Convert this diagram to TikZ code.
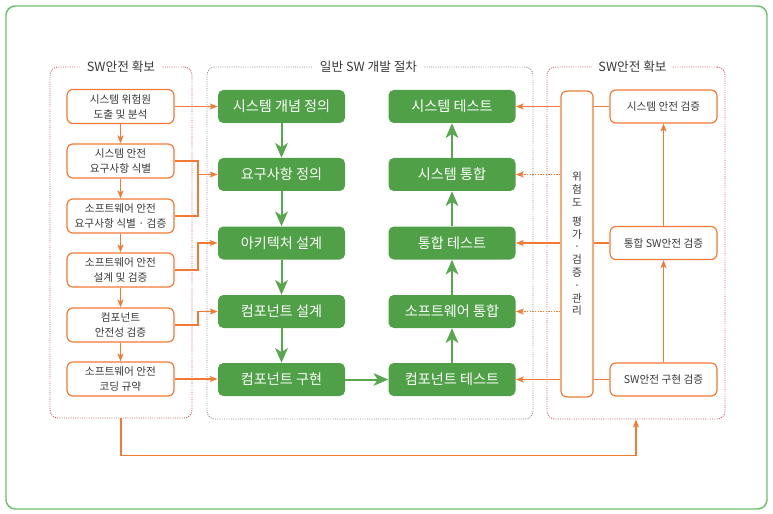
\documentclass[tikz,border=0pt]{standalone}
\usepackage{fontspec}
\setmainfont{Noto Sans CJK KR}
\usetikzlibrary{arrows.meta}
\definecolor{boxgreen}{HTML}{4FA046}
\definecolor{arrowgreen}{HTML}{58A64E}
\definecolor{framegreen}{HTML}{6CC06C}
\definecolor{safeorange}{HTML}{F27A35}
\definecolor{safered}{HTML}{C8585A}
\definecolor{textgray}{HTML}{3A3A3A}
\tikzset{
	stepbox/.style={fill=boxgreen, rounded corners=4pt, minimum width=95.25pt, minimum height=24.75pt, text=white, inner sep=0pt, font=\fontsize{10.6}{12}\selectfont},
	safebox/.style={draw=safeorange, line width=0.9pt, fill=white, rounded corners=4.5pt, minimum width=80.25pt, minimum height=25.5pt, inner sep=0pt, text=textgray, align=center, font=\fontsize{8}{11.3}\selectfont},
	safegroup/.style={draw=safered, densely dotted, line width=0.7pt, rounded corners=6pt},
	stepgroup/.style={draw=black!45, densely dotted, line width=0.7pt, rounded corners=6pt},
	grouplabel/.style={fill=white, inner xsep=5pt, inner ysep=1pt, text=textgray, font=\fontsize{9.5}{11}\selectfont},
	greenflow/.style={draw=arrowgreen, line width=1.5pt, -{Stealth[length=11pt, width=9.5pt, inset=3pt]}},
	safeflow/.style={draw=safeorange, line width=1pt, -{Stealth[length=6pt, width=4.5pt, inset=1.5pt]}},
	safeline/.style={draw=safeorange, line width=1pt},
	safedots/.style={draw=safeorange, densely dotted, line width=1pt, -{Stealth[length=6pt, width=4.5pt, inset=1.5pt]}}
}
\newcommand{\vertlabel}[1]{\parbox{12pt}{\centering\fontsize{8}{9.6}\selectfont\lineskiplimit=-100pt\relax #1}}
\begin{document}
\begin{tikzpicture}[x=0.75pt, y=-0.75pt]
			%%%%% FRAME %%%%%
			\useasboundingbox (0, 0) rectangle (773, 513);
			\draw[draw=framegreen, line width=1.1pt, rounded corners=7pt] (6, 6) rectangle (767, 509);
			
			\node[safegroup, minimum width=106.5pt, minimum height=263.25pt] (leftGroup) at (121, 242.5) {};
			\node[stepgroup, minimum width=244.5pt, minimum height=264pt] (midGroup) at (370, 243) {};
			\node[safegroup, minimum width=133.5pt, minimum height=264pt] (rightGroup) at (636, 243) {};
			
			\node[grouplabel] (leftLabel) at (leftGroup.north) {SW안전 확보};
			\node[grouplabel] (midLabel) at (368.5, 67) {일반 SW 개발 절차};
			\node[grouplabel] (rightLabel) at (632.5, 67) {SW안전 확보};
			
			%%%%% LEFT : SW SAFETY %%%%%
			\node[safebox] (sysHazard) at (120.5, 106.5) {시스템 위험원\\도출 및 분석};
			\node[safebox] (sysReq) at (120.5, 161) {시스템 안전\\요구사항 식별};
			\node[safebox] (swReq) at (120.5, 216) {소프트웨어 안전\\요구사항 식별 · 검증};
			\node[safebox] (swDesign) at (120.5, 270) {소프트웨어 안전\\설계 및 검증};
			\node[safebox] (compSafety) at (120.5, 325) {컴포넌트\\안전성 검증};
			\node[safebox] (swCoding) at (120.5, 379) {소프트웨어 안전\\코딩 규약};
			
			\draw[safeflow] (sysHazard) -- (sysReq);
			\draw[safeflow] (sysReq) -- (swReq);
			\draw[safeflow] (swReq) -- (swDesign);
			\draw[safeflow] (swDesign) -- (compSafety);
			\draw[safeflow] (compSafety) -- (swCoding);
			
			%%%%% MIDDLE : DEVELOPMENT %%%%%
			\node[stepbox] (gConcept) at (281.5, 106.5) {시스템 개념 정의};
			\node[stepbox] (gReq) at (281.5, 174.5) {요구사항 정의};
			\node[stepbox] (gArch) at (281.5, 243) {아키텍처 설계};
			\node[stepbox] (gCompDesign) at (281.5, 311.5) {컴포넌트 설계};
			\node[stepbox] (gCompImpl) at (281.5, 379.5) {컴포넌트 구현};
			
			\node[stepbox] (gSysTest) at (452, 106.5) {시스템 테스트};
			\node[stepbox] (gSysInteg) at (452, 174.5) {시스템 통합};
			\node[stepbox] (gIntegTest) at (452, 243) {통합 테스트};
			\node[stepbox] (gSwInteg) at (452, 311.5) {소프트웨어 통합};
			\node[stepbox] (gCompTest) at (452, 379.5) {컴포넌트 테스트};
			
			\draw[greenflow] (gConcept) -- (gReq);
			\draw[greenflow] (gReq) -- (gArch);
			\draw[greenflow] (gArch) -- (gCompDesign);
			\draw[greenflow] (gCompDesign) -- (gCompImpl);
			\draw[greenflow] (gCompImpl) -- (gCompTest);
			\draw[greenflow] (gCompTest) -- (gSwInteg);
			\draw[greenflow] (gSwInteg) -- (gIntegTest);
			\draw[greenflow] (gIntegTest) -- (gSysInteg);
			\draw[greenflow] (gSysInteg) -- (gSysTest);
			
			%%%%% LEFT -> MIDDLE %%%%%
			\coordinate (mergeReq) at (198, 174.5);
			\coordinate (mergeArch) at (198, 243);
			\coordinate (mergeComp) at (198, 311.5);
			\draw[safeflow] (sysHazard) -- (gConcept);
			\draw[safeline] (swReq.east) -| (mergeReq);
			\draw[safeflow] (sysReq.east) -| (mergeReq) -- (gReq.west);
			\draw[safeflow] (swDesign.east) -| (mergeArch) -- (gArch.west);
			\draw[safeflow] (compSafety.east) -| (mergeComp) -- (gCompDesign.west);
			\draw[safeflow] (swCoding.east) -- (gCompImpl.west |- swCoding.east);
			
			%%%%% RIGHT : SW SAFETY %%%%%
			\node[safebox, minimum width=24pt, minimum height=229.5pt] (riskBox) at (577, 244) {};
			\node[text=textgray, inner sep=0pt] (riskText) at (riskBox.center) {\vertlabel{위\par 험\par 도\par\vspace{4.5pt}평\par 가\par ·\par 검\par 증\par ·\par 관\par 리}};
			
			\node[safebox, minimum height=24.75pt] (vSys) at (663.5, 106.5) {시스템 안전 검증};
			\node[safebox, minimum height=24.75pt] (vInteg) at (663.5, 243) {통합 SW안전 검증};
			\node[safebox, minimum height=24.75pt] (vImpl) at (663.5, 379.5) {SW안전 구현 검증};
			
			\draw[safeflow] (vImpl) -- (vInteg);
			\draw[safeflow] (vInteg) -- (vSys);
			
			\draw[safeline] (vSys.west) -- (vSys.west -| riskBox.east);
			\draw[safeline] (vInteg.west) -- (vInteg.west -| riskBox.east);
			\draw[safeline] (vImpl.west) -- (vImpl.west -| riskBox.east);
			
			%%%%% RIGHT -> MIDDLE %%%%%
			\draw[safeflow] (riskBox.west |- gSysTest) -- (gSysTest.east);
			\draw[safedots] (riskBox.west |- gSysInteg) -- (gSysInteg.east);
			\draw[safeflow] (riskBox.west |- gIntegTest) -- (gIntegTest.east);
			\draw[safedots] (riskBox.west |- gSwInteg) -- (gSwInteg.east);
			\draw[safeflow] (riskBox.west |- gCompTest) -- (gCompTest.east);
			
			\draw[safeflow] (leftGroup.south) -- ++(0, 37) -| (rightGroup.south);
			%%%%% END %%%%%
		\end{tikzpicture}
\end{document}
